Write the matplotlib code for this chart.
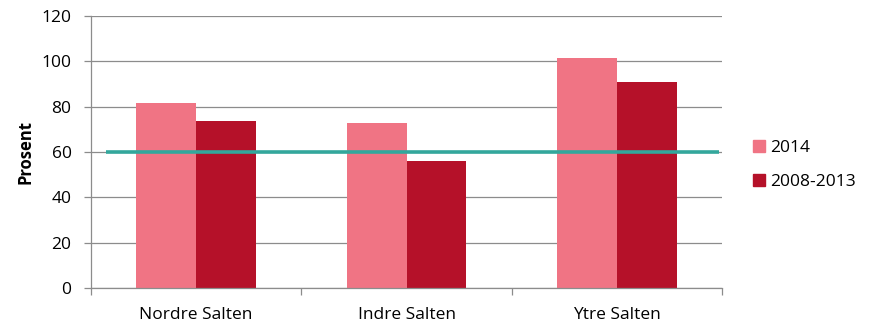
import matplotlib
matplotlib.use("Agg")
import matplotlib.pyplot as plt
import numpy as np
from matplotlib.patches import Patch

categories = ["Nordre Salten", "Indre Salten", "Ytre Salten"]
series_names = ["2014", "2008-2013"]
values_2014 = [81.5, 73, 101.5]
values_2008_2013 = [73.5, 56, 91]
reference_level = 60
y_ticks = [0, 20, 40, 60, 80, 100, 120]

colors = ["#F07484", "#B51129"]
line_color = "#33A79C"

plt.rcParams["font.family"] = ["Open Sans", "DejaVu Sans"]

fig = plt.figure(figsize=(8.72, 3.23), dpi=100)
ax = fig.add_axes([91 / 872, 1 - 288 / 323, (722 - 91) / 872, (288 - 16) / 323])

x = np.arange(len(categories))
w = 0.285
ax.bar(x - w / 2, values_2014, width=w, color=colors[0], zorder=2)
ax.bar(x + w / 2, values_2008_2013, width=w, color=colors[1], zorder=2)

ax.plot([-0.43, 2.485], [reference_level, reference_level], color=line_color,
        lw=2.6, solid_capstyle="butt", zorder=3)

ax.set_xlim(-0.5, 2.5)
ax.set_ylim(0, 120)
ax.set_yticks(y_ticks)
ax.set_yticklabels([str(t) for t in y_ticks], fontsize=12.5)
ax.yaxis.grid(True, color="#8c8c8c", lw=0.9, zorder=0)
ax.set_axisbelow(True)

ax.set_xticks(x)
ax.set_xticklabels(categories, fontsize=12.5)
ax.tick_params(axis="x", length=0, pad=14)
ax.set_xticks([-0.5, 0.5, 1.5, 2.5], minor=True)
ax.tick_params(axis="x", which="minor", length=5, color="#8c8c8c", width=0.9)
ax.tick_params(axis="y", length=5, color="#8c8c8c", width=0.9, pad=9)

for s in ["top", "right"]:
    ax.spines[s].set_visible(False)
for s in ["left", "bottom"]:
    ax.spines[s].set_color("#8c8c8c")
    ax.spines[s].set_linewidth(0.9)

ax.set_ylabel("Prosent", fontsize=12, fontweight="bold", labelpad=5)

handles = [Patch(color=c) for c in colors]
fig.legend(handles, series_names, loc="center left", bbox_to_anchor=(737 / 872, 1 - 165 / 323),
           frameon=False, fontsize=12.5, handlelength=0.7, handleheight=0.7,
           handletextpad=0.3, labelspacing=1.0)

fig.savefig("out.png", dpi=100)
